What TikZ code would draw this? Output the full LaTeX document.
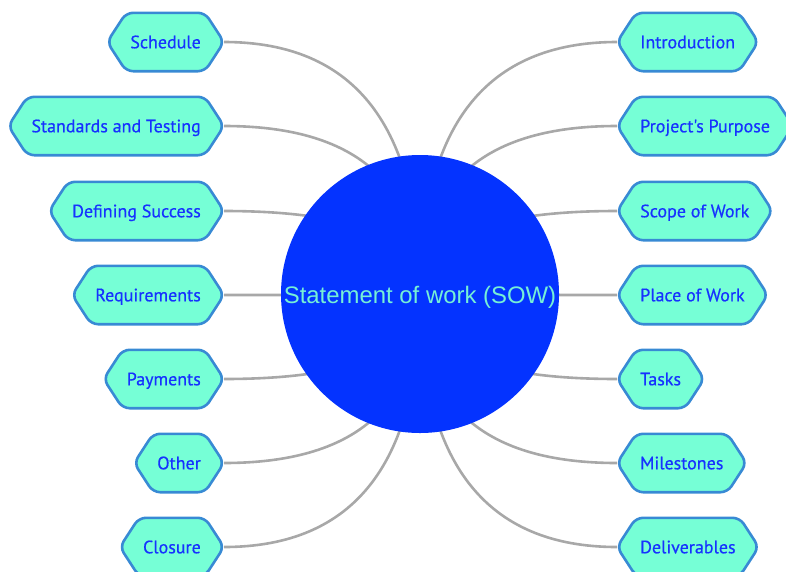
\documentclass[tikz,border=0pt]{standalone}
\usepackage{fontspec}
\setmainfont{PT Sans}
\newfontfamily\hexfont{PT Sans}[FakeBold=0.5]
\newfontfamily\circfont{Liberation Sans}
\usetikzlibrary{calc,backgrounds}
\definecolor{hexfill}{RGB}{118,255,214}
\definecolor{hexborder}{RGB}{56,138,212}
\definecolor{hextext}{RGB}{22,50,255}
\definecolor{circfill}{RGB}{4,51,255}
\definecolor{circtext}{RGB}{118,240,214}
\definecolor{conngray}{RGB}{168,168,168}
\tikzset{
  topic/.style={inner xsep=23pt, inner ysep=0pt, minimum height=58pt,
    text height=12.6pt, text depth=0pt, text=hextext,
    font=\hexfont\fontsize{18}{21}\selectfont},
  lefttopic/.style={topic, anchor=east},
  righttopic/.style={topic, anchor=west},
  hexshape/.style={fill=hexfill, draw=hexborder, line width=2.6pt, rounded corners=7pt},
  conn/.style={draw=conngray, line width=2.6pt},
  hub/.style={circle, fill=circfill, minimum size=278pt, inner sep=0pt,
    text=circtext, font=\circfont\fontsize{23.9}{28}\selectfont}
}
\newcommand{\hexaround}[1]{%
  \path[hexshape] (#1.north) -- ([xshift=-19pt]#1.north east) -- (#1.east)
    -- ([xshift=-19pt]#1.south east) -- ([xshift=19pt]#1.south west)
    -- (#1.west) -- ([xshift=19pt]#1.north west) -- cycle;}
\begin{document}
\begin{tikzpicture}[x=1pt,y=-1pt]
\useasboundingbox (0,0) rectangle (786,571);
\node[hub] (c) at (420,294) {};
\node[text=circtext, font=\circfont\fontsize{23.9}{28}\selectfont, text height=17.2pt, text depth=0pt, inner sep=0pt] (ct) at (420,294.5) {Statement of work (SOW)};
% left topics
\node[lefttopic] (sch) at (224,42) {Schedule};
\node[lefttopic] (std) at (224,126) {Standards and Testing};
\node[lefttopic] (def) at (224,211) {Defining Success};
\node[lefttopic] (req) at (224,295) {Requirements};
\node[lefttopic] (pay) at (224,379) {Payments};
\node[lefttopic] (oth) at (224,463) {Other};
\node[lefttopic] (clo) at (224,547) {Closure};
% right topics
\node[righttopic] (intro) at (617,42) {Introduction};
\node[righttopic] (purp) at (617,126) {Project's Purpose};
\node[righttopic] (scope) at (617,211) {Scope of Work};
\node[righttopic] (place) at (617,295) {Place of Work};
\node[righttopic] (tasks) at (617,379) {Tasks};
\node[righttopic] (miles) at (617,463) {Milestones};
\node[righttopic] (deliv) at (617,547) {Deliverables};
\begin{scope}[on background layer]
  \foreach \n in {sch,std,def,req,pay,oth,clo} {
    \coordinate (k) at (\n.east -| c);
    \draw[conn] (\n.east) .. controls ($(\n.east)!2/3!(k)$) and ($(c.center)!2/3!(k)$) .. (c.center);
  }
  \foreach \n in {intro,purp,scope,place,tasks,miles,deliv} {
    \coordinate (k) at (\n.west -| c);
    \draw[conn] (\n.west) .. controls ($(\n.west)!2/3!(k)$) and ($(c.center)!2/3!(k)$) .. (c.center);
  }
  \foreach \n in {sch,std,def,req,pay,oth,clo,intro,purp,scope,place,tasks,miles,deliv} {
    \hexaround{\n}
  }
\end{scope}
\end{tikzpicture}
\end{document}
